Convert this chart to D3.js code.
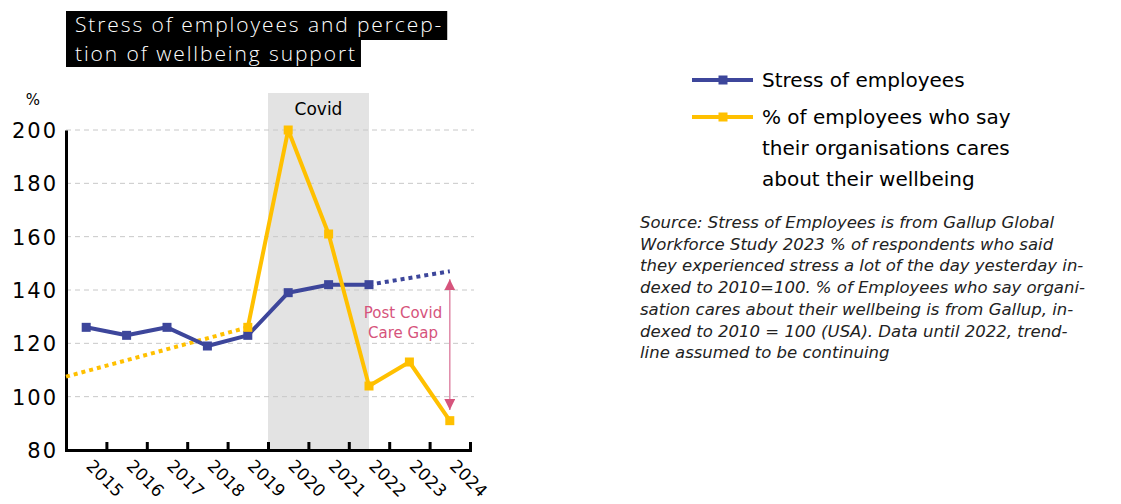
<!DOCTYPE html>
<html>
<head>
<meta charset="utf-8">
<script src="https://cdn.jsdelivr.net/npm/d3@7"></script>
<style>
  body { margin: 0; background: #fff; }
  svg { font-family: "DejaVu Sans", "Open Sans", sans-serif; }
</style>
</head>
<body>
<div id="chart"></div>
<script>
// data
var years = [2015, 2016, 2017, 2018, 2019, 2020, 2021, 2022, 2023, 2024];
var yTicks = [80, 100, 120, 140, 160, 180, 200];

var stressYears = [2015, 2016, 2017, 2018, 2019, 2020, 2021, 2022];
var stressValues = [126, 123, 126, 119, 123, 139, 142, 142];
var stressTrendYears = [2022, 2024];
var stressTrendValues = [142, 147];

var careYears = [2019, 2020, 2021, 2022, 2023, 2024];
var careValues = [126, 200, 161, 104, 113, 91];
var careTrendYears = [2014.5, 2019];
var careTrendValues = [107.5, 126];

var covidSpan = [2019.5, 2022];
var gapYear = 2024;
var gapValues = [144, 95];

var titleLines = ["Stress of employees and percep-", "tion of wellbeing support"];
var legendItems = [
  {name: "stress", lines: ["Stress of employees"]},
  {name: "care", lines: ["% of employees who say", "their organisations cares", "about their wellbeing"]}
];
var sourceLines = [
  "Source: Stress of Employees is from Gallup Global",
  "Workforce Study 2023 % of respondents who said",
  "they experienced stress a lot of the day yesterday in-",
  "dexed to 2010=100. % of Employees who say organi-",
  "sation cares about their wellbeing is from Gallup, in-",
  "dexed to 2010 = 100 (USA).  Data until 2022, trend-",
  "line assumed to be continuing"
];

var blue = "#3d469b", yellow = "#ffc000", pink = "#d6547c";

var W = 1121, H = 504;
var svg = d3.select("#chart").append("svg").attr("width", W).attr("height", H);

var x = d3.scaleLinear().domain([2014.5, 2024.5]).range([66, 470]);
var y = d3.scaleLinear().domain([80, 200]).range([450, 130]);

// title: one black box per line
var title = svg.append("g").attr("class", "title");
titleLines.forEach(function(t, i) {
  var txt = title.append("text")
    .attr("x", 75).attr("y", 32 + i * 29)
    .attr("fill", "#fff")
    .style("font-family", "'Open Sans'")
    .style("font-size", "21px").style("font-weight", 300)
    .style("letter-spacing", "1.9px")
    .text(t);
  var w = txt.node().getComputedTextLength();
  title.insert("rect", "text")
    .attr("x", 66).attr("y", 11 + i * 29)
    .attr("width", w + 13).attr("height", i == 0 ? 29 : 27)
    .attr("fill", "#000");
});

// covid band
svg.append("rect")
  .attr("x", x(covidSpan[0])).attr("y", 93)
  .attr("width", x(covidSpan[1]) - x(covidSpan[0]))
  .attr("height", y(80) - 93)
  .attr("fill", "#e3e3e3");
svg.append("text")
  .attr("x", (x(covidSpan[0]) + x(covidSpan[1])) / 2).attr("y", 115)
  .attr("text-anchor", "middle")
  .style("font-size", "17px")
  .text("Covid");

// gridlines
svg.append("g").selectAll("line")
  .data(yTicks.filter(d => d > 80))
  .enter().append("line")
  .attr("x1", 66).attr("x2", 474)
  .attr("y1", d => y(d)).attr("y2", d => y(d))
  .attr("stroke", "#c8c8c8").attr("stroke-width", 1)
  .attr("stroke-dasharray", "5,4");

// axes
var yAxis = svg.append("g")
  .attr("transform", "translate(66,0)")
  .call(d3.axisLeft(y).tickValues(yTicks).tickSize(0).tickPadding(8));
yAxis.select(".domain").attr("stroke", "#000").attr("stroke-width", 3);
yAxis.selectAll("text")
  .style("font-size", "21px").style("font-family", "DejaVu Sans")
  .style("letter-spacing", "2px")
  .attr("dy", "0.36em")
  .attr("fill", "#000");

svg.append("text")
  .attr("x", 33).attr("y", 105)
  .attr("text-anchor", "middle")
  .style("font-size", "15px")
  .text("%");

var xAxis = svg.append("g")
  .attr("transform", "translate(0," + y(80) + ")")
  .call(d3.axisBottom(x).tickValues(years.map(d => d + 0.5)).tickSize(-8).tickFormat(""));
xAxis.select(".domain").attr("stroke", "#000").attr("stroke-width", 3);
xAxis.selectAll(".tick line").attr("stroke", "#000").attr("stroke-width", 3);

svg.append("g").selectAll("text")
  .data(years)
  .enter().append("text")
  .attr("transform", d => "translate(" + (x(d) - 1) + ",467) rotate(45)")
  .style("font-size", "17px")
  .style("letter-spacing", "0.3px")
  .text(d => d);

// lines
var line = d3.line().x(d => x(d[0])).y(d => y(d[1]));

function drawSeries(yrs, vals, color, dotted, markers) {
  var pts = d3.zip(yrs, vals);
  svg.append("path")
    .datum(pts)
    .attr("d", line)
    .attr("fill", "none")
    .attr("stroke", color)
    .attr("stroke-width", 4)
    .attr("stroke-dasharray", dotted ? "4,4" : null)
    .attr("stroke-linejoin", "round");
  if (markers) {
    svg.append("g").selectAll("rect")
      .data(pts)
      .enter().append("rect")
      .attr("x", d => x(d[0]) - 4.5).attr("y", d => y(d[1]) - 4.5)
      .attr("width", 9).attr("height", 9)
      .attr("fill", color);
  }
}

drawSeries(careTrendYears, careTrendValues, yellow, true, false);
drawSeries(stressYears, stressValues, blue, false, true);
drawSeries(stressTrendYears, stressTrendValues, blue, true, false);
drawSeries(careYears, careValues, yellow, false, true);

// care gap arrow
var defs = svg.append("defs");
defs.append("marker")
  .attr("id", "arrowHead")
  .attr("viewBox", "0 0 10 10")
  .attr("refX", 10).attr("refY", 5)
  .attr("markerWidth", 11).attr("markerHeight", 11)
  .attr("orient", "auto-start-reverse")
  .attr("markerUnits", "userSpaceOnUse")
  .append("path").attr("d", "M0,0 L10,5 L0,10 Z").attr("fill", pink);

svg.append("line")
  .attr("x1", x(gapYear)).attr("x2", x(gapYear))
  .attr("y1", y(gapValues[0])).attr("y2", y(gapValues[1]))
  .attr("stroke", "#e08aa8").attr("stroke-width", 1.5)
  .attr("marker-start", "url(#arrowHead)")
  .attr("marker-end", "url(#arrowHead)");

svg.append("g").selectAll("text")
  .data(["Post Covid", "Care Gap"])
  .enter().append("text")
  .attr("x", 403).attr("y", (d, i) => 318 + i * 19.5)
  .attr("text-anchor", "middle")
  .attr("fill", pink)
  .style("font-size", "15px")
  .text(d => d);

// legend
var legend = svg.append("g");
var legendY = [80, 117];
legendItems.forEach(function(item, i) {
  var color = item.name == "stress" ? blue : yellow;
  legend.append("line")
    .attr("x1", 692).attr("x2", 753)
    .attr("y1", legendY[i]).attr("y2", legendY[i])
    .attr("stroke", color).attr("stroke-width", 4);
  legend.append("rect")
    .attr("x", 718.5).attr("y", legendY[i] - 4.5)
    .attr("width", 9).attr("height", 9)
    .attr("fill", color);
  item.lines.forEach(function(t, j) {
    legend.append("text")
      .attr("x", 762).attr("y", legendY[i] + 7 + j * 31)
      .style("font-size", "20px")
      .text(t);
  });
});

// source
svg.append("g").selectAll("text")
  .data(sourceLines)
  .enter().append("text")
  .attr("x", 640).attr("y", (d, i) => 228 + i * 21.7)
  .style("font-size", "16.5px").style("font-style", "italic")
  .attr("fill", "#222")
  .text(d => d);
</script>
</body>
</html>
